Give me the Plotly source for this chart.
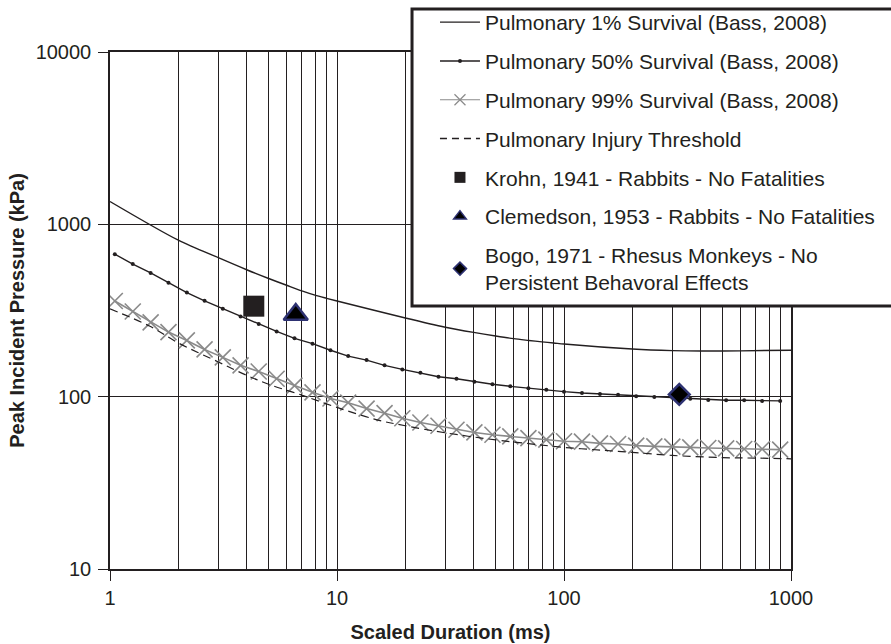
import plotly.graph_objects as go

# ---------------- data ----------------
# scaled duration (ms) at marker positions of the Bass curves
t_curve = [1.05, 1.26, 1.51, 1.81, 2.18, 2.61, 3.14, 3.76, 4.52, 5.42, 6.5, 7.8,
           9.36, 11.2, 13.5, 16.2, 19.4, 23.3, 28.0, 33.6, 40.3, 48.4, 58.0, 69.7,
           83.6, 100, 120, 144, 173, 208, 250, 300, 360, 432, 518, 622, 746, 896]
p50 = [671, 588, 522, 458, 402, 360, 324, 292, 264, 239, 218, 203,
       186, 172, 163, 152, 144, 137.5, 130.4, 127, 122, 118, 114.8, 111.8,
       109.7, 106.9, 105, 103.7, 102.7, 100.5, 99.6, 98.6, 97.4, 95.7, 95.3, 95.3, 94.5, 94.5]
p99 = [359, 312, 270, 237, 212, 188, 169, 152, 140, 127, 116, 106,
       97.6, 92.3, 85.3, 80.2, 75.0, 70.8, 67.8, 64.3, 62.0, 60.1, 58.8, 57.5,
       56.3, 55.1, 54.8, 53.6, 53.1, 52.0, 51.5, 51.3, 50.8, 50.4, 50.1, 49.7, 49.7, 49.3]

t_p1 = [1, 2, 3, 4, 5, 6, 7, 8, 9, 10, 20, 30, 40, 50, 60, 70, 80, 90, 100,
        200, 300, 400, 600, 1000]
p1 = [1357, 809, 640, 545, 485, 443, 411, 388, 372, 359, 286, 253, 236, 225, 217,
      212, 208, 205, 202, 189, 185, 184, 184.5, 186]

t_thr = [1, 1.5, 2, 3, 4, 5, 7, 10, 15, 20, 30, 50, 70, 100, 150, 200, 300, 500, 700, 1000]
p_thr = [323, 256, 205, 159, 133, 118, 102, 86.6, 73.4, 67.8, 61.7, 56.1, 53.4, 50.8,
         48.8, 47.5, 45.6, 44.3, 44.0, 43.6]

krohn_t, krohn_p = [4.3], [335]
clem_t, clem_p = [6.58], [300]
bogo_t, bogo_p = [322], [103]

names = ["Pulmonary 1% Survival (Bass, 2008)",
         "Pulmonary 50% Survival (Bass, 2008)",
         "Pulmonary 99% Survival (Bass, 2008)",
         "Pulmonary Injury Threshold",
         "Krohn, 1941 - Rabbits - No Fatalities",
         "Clemedson, 1953 - Rabbits - No Fatalities",
         "Bogo, 1971 - Rhesus Monkeys - No<br>Persistent Behavoral Effects"]

x_ticks = [1, 10, 100, 1000]
y_ticks = [10, 100, 1000, 10000]
x_minor = [2, 3, 4, 5, 6, 7, 8, 9, 20, 30, 40, 50, 60, 70, 80, 90,
           200, 300, 400, 500, 600, 700, 800, 900]

# ---------------- styles ----------------
INK = "#231f20"
GRAY = "#8a8a8a"
NAVY = "#2e3272"
FONT = "Arial, 'Liberation Sans', sans-serif"

fig = go.Figure()

fig.add_trace(go.Scatter(x=t_p1, y=p1, mode="lines", name=names[0],
                         line=dict(color=INK, width=1.4, shape="spline", smoothing=0.8),
                         legendgroup="a"))
fig.add_trace(go.Scatter(x=t_curve, y=p50, mode="lines+markers", name=names[1],
                         line=dict(color=INK, width=1.4),
                         marker=dict(color=INK, size=4), legendgroup="b"))
fig.add_trace(go.Scatter(x=t_curve, y=p99, mode="lines+markers", name=names[2],
                         line=dict(color=GRAY, width=1.6),
                         marker=dict(symbol="x-thin", size=16,
                                     line=dict(color=GRAY, width=1.6)),
                         legendgroup="c", showlegend=False))
fig.add_trace(go.Scatter(x=t_thr, y=p_thr, mode="lines", name=names[3],
                         line=dict(color=INK, width=1.2, dash="8px,5px", shape="spline"),
                         legendgroup="d", showlegend=False))
fig.add_trace(go.Scatter(x=krohn_t, y=krohn_p, mode="markers", name=names[4],
                         marker=dict(symbol="square", size=21, color=INK),
                         legendgroup="e", showlegend=False))
fig.add_trace(go.Scatter(x=clem_t, y=clem_p, mode="markers", name=names[5],
                         marker=dict(symbol="triangle-up", size=21, color="black",
                                     line=dict(color=NAVY, width=2.5)),
                         legendgroup="f", showlegend=False))
fig.add_trace(go.Scatter(x=bogo_t, y=bogo_p, mode="markers", name=names[6],
                         marker=dict(symbol="diamond", size=16, color="black",
                                     line=dict(color=NAVY, width=2.5)),
                         legendgroup="g", showlegend=False))

# legend-only entries (smaller symbols, as in the reference legend)
fig.add_trace(go.Scatter(x=[None], y=[None], mode="lines+markers", name=names[2],
                         line=dict(color=GRAY, width=1.2),
                         marker=dict(symbol="x-thin", size=11,
                                     line=dict(color=GRAY, width=1.2)),
                         legendgroup="c"))
fig.add_trace(go.Scatter(x=[None], y=[None], mode="lines", name=names[3],
                         line=dict(color=INK, width=1.4, dash="7px,5px"),
                         legendgroup="d"))
fig.add_trace(go.Scatter(x=[None], y=[None], mode="markers", name=names[4],
                         marker=dict(symbol="square", size=11, color=INK),
                         legendgroup="e"))
fig.add_trace(go.Scatter(x=[None], y=[None], mode="markers", name=names[5],
                         marker=dict(symbol="triangle-up", size=11, color="black",
                                     line=dict(color=NAVY, width=1.5)),
                         legendgroup="f"))
fig.add_trace(go.Scatter(x=[None], y=[None], mode="markers", name=names[6],
                         marker=dict(symbol="diamond", size=10, color="black",
                                     line=dict(color=NAVY, width=1.5)),
                         legendgroup="g"))

axis_common = dict(
    type="log", showgrid=True, gridcolor=INK, gridwidth=1.4,
    showline=True, linecolor=INK, linewidth=1.5, mirror=True,
    ticks="outside", ticklen=10, tickcolor=INK, tickwidth=1.3,
    tickmode="array", zeroline=False,
    tickfont=dict(family=FONT, size=20, color=INK),
)

fig.update_xaxes(**axis_common, range=[0, 3], tickvals=x_ticks,
                 ticktext=[str(v) for v in x_ticks],
                 minor=dict(tickmode="array", tickvals=x_minor, showgrid=True,
                            gridcolor=INK, gridwidth=1.4, ticks=""),
                 title=dict(text="<b>Scaled Duration (ms)</b>",
                            font=dict(family=FONT, size=20, color=INK), standoff=17))
fig.update_yaxes(**axis_common, range=[1, 4], tickvals=y_ticks,
                 ticktext=[str(v) for v in y_ticks], ticklabelstandoff=3,
                 title=dict(text="<b>Peak Incident Pressure (kPa)</b>",
                            font=dict(family=FONT, size=20, color=INK), standoff=6))

# legend frame (runs off the right edge of the picture, as in the reference)
fig.add_shape(type="rect", xref="paper", yref="paper",
              x0=0.4435, x1=1.3, y0=0.5087, y1=1.0832,
              fillcolor="white", line=dict(color=INK, width=3), layer="above")

fig.update_layout(
    width=891, height=644,
    margin=dict(l=110, r=100, t=52, b=75, autoexpand=False),
    paper_bgcolor="white", plot_bgcolor="white",
    font=dict(family=FONT, color=INK),
    legend=dict(x=0.4772, y=1.0967, xanchor="left", yanchor="top",
                bgcolor="rgba(0,0,0,0)", borderwidth=0,
                font=dict(family=FONT, size=21, color=INK),
                traceorder="grouped", tracegroupgap=8.5, itemwidth=40),
)

fig.write_html("out.html")
